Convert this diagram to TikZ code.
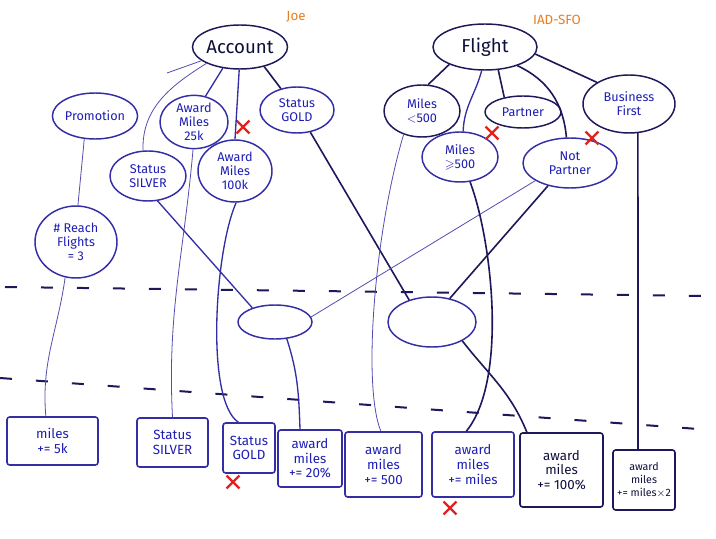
\documentclass[tikz,border=0pt]{standalone}
\usepackage{amssymb}
\usepackage{fontspec}
\setmainfont{Fira Sans}
\usetikzlibrary{shapes.geometric,shapes.misc,calc}
\definecolor{inkblue}{RGB}{52,46,165}
\definecolor{inkdark}{RGB}{28,24,90}
\definecolor{txtblue}{RGB}{30,30,180}
\definecolor{txtdark}{RGB}{15,15,60}
\definecolor{xred}{RGB}{228,32,32}
\definecolor{orng}{RGB}{232,125,35}
\begin{document}
\begin{tikzpicture}[x=0.75pt,y=-0.75pt,
  ell/.style={ellipse, draw=inkblue, line width=1.1pt, inner sep=0pt, align=center,
    text=txtblue, font=\fontsize{9.5}{10.5}\selectfont},
  bigell/.style={ell, draw=inkdark, text=txtdark, font=\fontsize{14}{16}\selectfont},
  darkell/.style={ell, draw=inkdark},
  box/.style={rectangle, rounded corners=2pt, draw=inkblue, line width=1.2pt, inner sep=0pt,
    align=center, text=txtblue, font=\fontsize{10}{11}\selectfont},
  darkbox/.style={box, draw=inkdark, text=txtdark},
  sz/.style 2 args={minimum width=#1*0.75pt, minimum height=#2*0.75pt},
  con/.style={draw=inkblue, line width=1pt},
  thinline/.style={draw=inkblue!85, line width=0.6pt},
  dark/.style={draw=inkdark, line width=1.2pt},
  dashline/.style={draw=inkdark, line width=1.5pt, dash pattern=on 9pt off 18pt},
  xmark/.style={cross out, draw=xred, line width=1.7pt, minimum size=8pt, inner sep=0pt},
  note/.style={text=orng, font=\fontsize{10}{12}\selectfont}
]
\path[use as bounding box, fill=white] (0,0) rectangle (716,538);

% notes
\node[note] (joe) at (296,17) {Joe};
\node[note] (iad) at (557,20) {IAD-SFO};

% top ellipses
\node[bigell, sz={94}{44}] (acc) at (240,47) {Account};
\node[bigell, sz={104}{46}] (fl) at (485,47) {Flight};

\node[ell, sz={80}{46}] (promo) at (95,116) {Promotion};
\node[ell, sz={68}{52}] (am25) at (194,122) {Award\\Miles\\25k};
\node[ell, sz={74}{46}] (gold) at (297,110) {Status\\GOLD};
\node[ell, sz={76}{50}] (silver) at (148,176) {Status\\SILVER};
\node[ell, sz={74}{62}] (am100) at (235,171) {Award\\Miles\\100k};
\node[ell, sz={82}{72}] (reach) at (76,242) {\# Reach\\Flights\\= 3};

\node[darkell, sz={76}{52}] (ml500) at (422,111) {Miles\\$<$500};
\node[darkell, sz={76}{32}] (partner) at (523,112) {Partner};
\node[darkell, sz={92}{58}] (bf) at (629,104) {Business\\First};
\node[ell, sz={76}{50}] (mg500) at (460,157) {Miles\\$\geqslant$500};
\node[ell, sz={94}{50}] (np) at (570,163) {Not\\Partner};

% empty ellipses
\node[ell, sz={74}{34}] (e1) at (275,322) {};
\node[ell, sz={88}{50}] (e2) at (432,322) {};

% boxes
\node[box, sz={91}{48}] (b1) at (52.5,441) {miles\\+= 5k};
\node[box, sz={71}{49}] (b2) at (172.5,442.5) {Status\\SILVER};
\node[box, sz={52}{50}] (b3) at (249,448) {Status\\GOLD};
\node[box, sz={64}{57}] (b4) at (310,458.5) {award\\miles\\+= 20\%};
\node[box, sz={77}{65}] (b5) at (383.5,464.5) {award\\miles\\+= 500};
\node[box, sz={82}{65}] (b6) at (473,464.5) {award\\miles\\+= miles};
\node[darkbox, sz={83}{74}] (b7) at (561.5,470) {award\\miles\\+= 100\%};
\node[darkbox, sz={62}{60}, font=\fontsize{8}{10}\selectfont] (b8) at (644,480) {award\\miles\\+= miles$\times$2};

% red crosses
\node[xmark] (x1) at (243,127) {};
\node[xmark] (x2) at (492,133) {};
\node[xmark] (x3) at (592,138) {};
\node[xmark] (x4) at (233,482) {};
\node[xmark] (x5) at (450,508) {};

% dashed separators
\coordinate (d1a) at (5,287);
\coordinate (d1b) at (708,296);
\coordinate (d2a) at (0,378);
\coordinate (d2b) at (712,430);
\draw[dashline] (d1a) -- (d1b);
\draw[dashline] (d2a) -- (d2b);

% Account connectors
\coordinate (stub) at (167,73);
\draw[thinline] (acc) -- (stub);
\draw[thinline] (acc.206) to[out=212,in=92] (silver.101);
\draw[con] (acc.231) -- (am25.66);
\draw[con] (acc.268) -- (am100.90);
\draw[dark] (acc.321) -- (gold.127);

\draw[thinline] (promo.245) -- (reach.87);
\draw[thinline] (reach.253) to[out=262,in=95] ([xshift=-5pt]b1.north);
\draw[thinline] (am25.268) to[out=265,in=93] (b2.north);
\draw[con] (silver.291) -- (e1.148);
\draw[con] (am100.272) .. controls (215,250) and (205,400) .. ([xshift=-8pt]b3.north);
\draw[dark] (gold.301) -- (e2.136);
\draw[con] (e1.305) to[out=-72,in=92] ([xshift=-7.5pt]b4.north);
\draw[thinline] (e1.8) -- (np.207);
\draw[dark] (np.226) -- (e2.53);

% Flight connectors
\draw[dark] (fl.206) -- (ml500.77);
\draw[con] (fl.262) to[out=255,in=88] (mg500.83);
\draw[dark] (fl.300) -- (partner.142);
\draw[dark] (fl.330) to[out=-25,in=95] (np.98);
\draw[dark] (fl.352) -- (bf.146);

\draw[thinline] (ml500.232) .. controls (375,230) and (362,385) .. ([xshift=-2pt]b5.north);
\draw[dark] (mg500.292) .. controls (492,240) and (508,380) .. ([xshift=-5pt]b6.north);
\draw[dark] (e2.328) to[out=-52,in=112] ([xshift=-26pt]b7.north);
\draw[dark] (bf.287) -- ([xshift=-4.5pt]b8.north);
\end{tikzpicture}
\end{document}
